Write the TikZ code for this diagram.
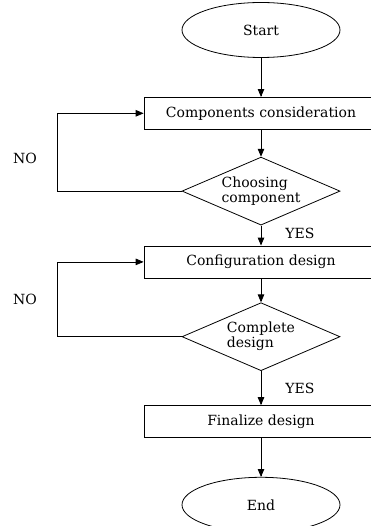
\documentclass[tikz,border=0pt]{standalone}
\usepackage{fontspec}
\setmainfont{DejaVu Serif}
\usetikzlibrary{shapes.geometric, positioning, arrows}

\begin{document}
\begin{tikzpicture}[>=triangle 45, font=\fontsize{14}{15}\selectfont, line width=0.8pt,
    terminal/.style={draw, ellipse, minimum width=158pt, minimum height=55pt, inner sep=0pt},
    process/.style={draw, rectangle, minimum width=234pt, minimum height=32pt, inner sep=0pt},
    decision/.style={draw, diamond, minimum width=158pt, minimum height=68pt, inner sep=-6pt, shape aspect=2.3, align=left},
    label/.style={inner sep=0pt}]
    \useasboundingbox (0,0) rectangle (371pt,-526pt);
    \node (start) [terminal] at (261pt,-30pt) {Start};
    \node (components) [below=39pt of start, process] {Components consideration};
    \node (choosing) [below=27pt of components, decision] {Choosing\\component};
    \node (configuration) [below=20pt of choosing, process] {Configuration design};
    \node (complete) [below=24pt of configuration, decision] {Complete\\design};
    \node (finalize) [below=34pt of complete, process] {Finalize design};
    \node (stop) [below=39pt of finalize, terminal] {End};
    % labels
    \node (no1) [label] at (25pt,-158pt) {NO};
    \node (yes1) [label] at (300pt,-233pt) {YES};
    \node (no2) [label] at (25pt,-299pt) {NO};
    \node (yes2) [label] at (300pt,-388pt) {YES};
    % connectors
    \draw [->] (start) -- (components);
    \draw [->] (components) -- (choosing);
    \draw [->] (choosing) -- (configuration);
    \draw [->] (configuration) -- (complete);
    \draw [->] (complete) -- (finalize);
    \draw [->] (finalize) -- (stop);
    \draw [->] (choosing.west) -- ++(-124pt,0) |- (components.west);
    \draw [->] (complete.west) -- ++(-124pt,0) |- (configuration.west);
\end{tikzpicture}
\end{document}
